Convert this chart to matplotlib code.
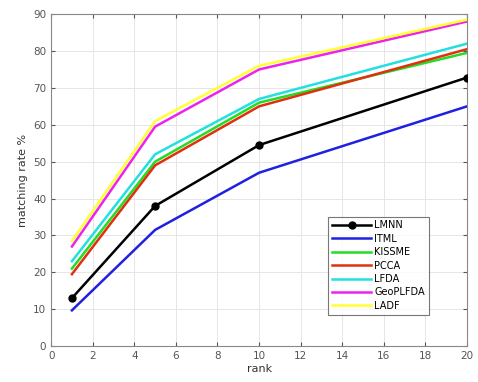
import matplotlib
matplotlib.use("Agg")
import matplotlib.pyplot as plt

ranks = [1, 5, 10, 20]
names = ["LMNN", "ITML", "KISSME", "PCCA", "LFDA", "GeoPLFDA", "LADF"]
lmnn = [13.0, 38.0, 54.5, 72.8]
itml = [9.7, 31.5, 47.0, 65.0]
kissme = [21.0, 50.0, 66.0, 79.5]
pcca = [19.5, 49.0, 65.0, 80.5]
lfda = [23.0, 52.0, 67.0, 82.0]
geoplfda = [27.0, 59.5, 75.0, 88.0]
ladf = [28.5, 61.0, 76.0, 88.5]
colors = ["black", "#2020e0", "#22dd22", "#e03010", "#22e0e0", "#ee22ee", "#ffff33"]

fig = plt.figure(figsize=(4.78, 3.82), dpi=100)
ax = fig.add_axes([0.107, 0.094, 0.870, 0.869])
series = [lmnn, itml, kissme, pcca, lfda, geoplfda, ladf]
for name, vals, c in zip(names, series, colors):
    if name == "LMNN":
        ax.plot(ranks, vals, color=c, lw=1.8, marker="o", ms=5, label=name, zorder=5)
    else:
        ax.plot(ranks, vals, color=c, lw=1.8, label=name)

ax.set_xlim(0, 20)
ax.set_ylim(0, 90)
ax.set_xticks(range(0, 21, 2))
ax.set_yticks(range(0, 91, 10))
ax.grid(True, color="#e6e6e6", lw=0.7)
ax.set_axisbelow(True)
ax.tick_params(direction="in", top=True, right=True, labelsize=7.5, colors="#555555", length=3)
for s in ax.spines.values():
    s.set_color("#888888")
    s.set_linewidth(0.8)
ax.set_xlabel("rank", fontsize=8, color="#333333", labelpad=2)
ax.set_ylabel("matching rate %", fontsize=8, color="#333333", labelpad=4)
leg = ax.legend(loc="upper left", bbox_to_anchor=(0.655, 0.405), fontsize=7, frameon=True,
                fancybox=False, edgecolor="#555555", handlelength=4.0, borderpad=0.4,
                labelspacing=0.35, handletextpad=0.3)
leg.get_frame().set_linewidth(0.8)
fig.savefig("out.png", dpi=100)
